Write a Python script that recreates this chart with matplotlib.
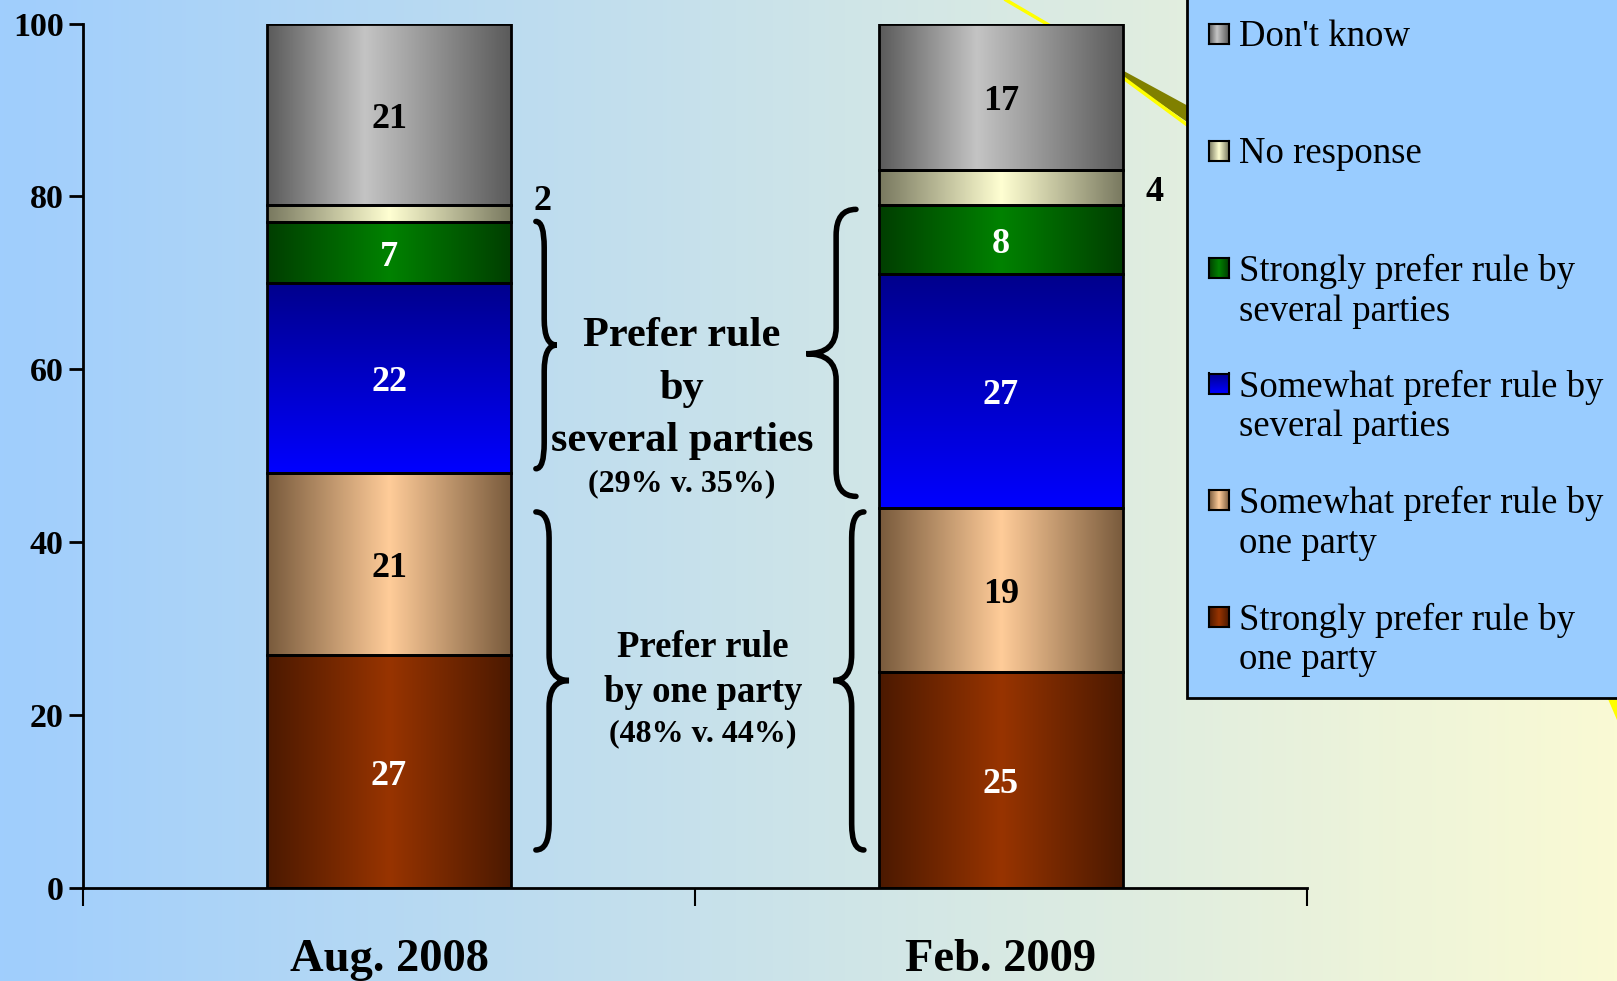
import numpy as np
import matplotlib.pyplot as plt
import matplotlib.transforms as mtransforms
from matplotlib.patches import Rectangle, Polygon
from matplotlib.path import Path
from matplotlib.patches import PathPatch

plt.rcParams['font.family'] = ['Liberation Serif', 'DejaVu Serif']

# données
periodes = ['Aug. 2008', 'Feb. 2009']
categories = ['Strongly prefer rule by\none party',
              'Somewhat prefer rule by\none party',
              'Somewhat prefer rule by\nseveral parties',
              'Strongly prefer rule by\nseveral parties',
              'No response',
              "Don't know"]
aug_2008 = [27, 21, 22, 7, 2, 21]
feb_2009 = [25, 19, 27, 8, 4, 17]
couleurs_texte = ['white', 'black', 'white', 'white', 'black', 'black']

# dégradés : (bord, centre, sens)
degrades = [((75, 25, 0), (152, 52, 0), 'h'),
            ((120, 90, 60), (255, 204, 153), 'h'),
            ((0, 0, 140), (0, 0, 255), 'v'),
            ((0, 62, 0), (0, 130, 0), 'h'),
            ((120, 120, 95), (255, 255, 210), 'h'),
            ((90, 90, 90), (196, 196, 196), 'h')]


def image_degrade(bord, centre, sens, pic=0.5):
    b = np.array(bord) / 255
    c = np.array(centre) / 255
    t = np.linspace(0, 1, 200)
    w = np.where(t < pic, t / pic, (1 - t) / (1 - pic))
    if sens == 'v':
        w = t
    img = b[None, :] * (1 - w[:, None]) + c[None, :] * w[:, None]
    if sens == 'h':
        return img[None, :, :]
    return img[:, None, :]


fig = plt.figure(figsize=(16.17, 9.81), dpi=100)

# fond en dégradé bleu -> jaune pâle
fond = fig.add_axes([0, 0, 1, 1], zorder=-2)
gauche = np.array([160, 206, 253]) / 255
droite = np.array([250, 250, 212]) / 255
t = np.linspace(0, 1, 400)
fond.imshow((gauche[None, :] * (1 - t[:, None]) + droite[None, :] * t[:, None])[None, :, :],
            aspect='auto', extent=[0, 1, 0, 1])
fond.set_xlim(0, 1)
fond.set_ylim(0, 1)
fond.axis('off')

# trait jaune de la bulle
W, H = 1617, 981
fond.plot([1006 / W, 1100 / W], [1, 1 - 55 / H], color='#FFFF00', lw=2.5)
fond.add_patch(Polygon([(1122 / W, 1 - 70 / H), (1190 / W, 1 - 107 / H),
                        (1190 / W, 1 - 124 / H), (1122 / W, 1 - 77 / H)],
                       closed=True, facecolor='#808000', edgecolor='none'))
fond.plot([1122 / W, 1190 / W], [1 - 77 / H, 1 - 127 / H], color='#FFFF00', lw=2.5)
fond.add_patch(Polygon([(1608 / W, 1 - 699 / H), (1617 / W, 1 - 699 / H),
                        (1617 / W, 1 - 720 / H)], closed=True,
                       facecolor='#FFFF00', edgecolor='none'))

ax = fig.add_axes([83 / W, 1 - 888 / H, (1307 - 83) / W, (888 - 23.5) / H])
ax.set_facecolor('none')

# petit décalage vers le bas pour centrer les chiffres comme dans l'original
decal = ax.transData + mtransforms.ScaledTranslation(0, -5 / 100, fig.dpi_scale_trans)

x = np.arange(len(periodes))
valeurs = np.array([aug_2008, feb_2009])
bas = np.zeros(len(periodes))
for i, cat in enumerate(categories):
    barres = ax.bar(x, valeurs[:, i], width=0.4, bottom=bas,
                    facecolor='none', edgecolor='black', linewidth=2, zorder=3)
    bord, centre, sens = degrades[i]
    pic = 0.4 if i == 5 else 0.5
    for rect in barres:
        x0, y0 = rect.get_x(), rect.get_y()
        im = ax.imshow(image_degrade(bord, centre, sens, pic), aspect='auto',
                       extent=[x0, x0 + rect.get_width(), y0, y0 + rect.get_height()],
                       origin='upper' if sens == 'v' else 'lower', zorder=2)
        im.set_clip_path(rect)
    for j in range(len(periodes)):
        v = valeurs[j, i]
        if cat == 'No response':
            # étiquette à droite de la barre
            ax.text(x[j] + 0.25, max(bas[j] + v / 2, 80), str(v), ha='center', va='center',
                    fontsize=26, fontweight='bold', color='black', transform=decal)
        else:
            ax.text(x[j], bas[j] + v / 2, str(v), ha='center', va='center',
                    fontsize=26, fontweight='bold', color=couleurs_texte[i], zorder=4,
                    transform=decal)
    bas += valeurs[:, i]


# accolades
def accolade(ax, x0, x1, y_haut, y_bas, y_pointe, hy=3.0):
    xm = x0 + 0.4 * (x1 - x0)
    verts = [(x0, y_haut), (xm, y_haut), (xm, y_haut - hy),
             (xm, y_pointe + hy), (xm, y_pointe), (x1, y_pointe),
             (xm, y_pointe), (xm, y_pointe - hy),
             (xm, y_bas + hy), (xm, y_bas), (x0, y_bas)]
    codes = [Path.MOVETO, Path.CURVE3, Path.CURVE3,
             Path.LINETO, Path.CURVE3, Path.CURVE3,
             Path.CURVE3, Path.CURVE3,
             Path.LINETO, Path.CURVE3, Path.CURVE3]
    ax.add_patch(PathPatch(Path(verts, codes), facecolor='none',
                           edgecolor='black', lw=4, capstyle='round', zorder=4))


accolade(ax, 0.240, 0.274, 77.1, 48.5, 62.8)
accolade(ax, 0.240, 0.294, 43.5, 4.4, 24.0)
accolade(ax, 0.763, 0.682, 78.5, 45.3, 61.8)
accolade(ax, 0.776, 0.726, 43.5, 4.4, 24.0)

txt = dict(ha='center', va='center', fontweight='bold', transform=decal)
ax.text(0.479, 64.4, 'Prefer rule', fontsize=30.5, **txt)
ax.text(0.479, 58.3, 'by', fontsize=30.5, **txt)
ax.text(0.479, 52.3, 'several parties', fontsize=30.5, **txt)
ax.text(0.479, 47.3, '(29% v. 35%)', fontsize=23, **txt)
ax.text(0.513, 28.4, 'Prefer rule', fontsize=26.5, **txt)
ax.text(0.513, 23.2, 'by one party', fontsize=26.5, **txt)
ax.text(0.513, 18.4, '(48% v. 44%)', fontsize=23, **txt)

# axes
ax.set_xlim(-0.5, 1.5)
ax.set_ylim(0, 100)
ax.set_yticks([0, 20, 40, 60, 80, 100])
ax.set_xticks([-0.5, 0.5, 1.5])
ax.set_xticklabels([])
ax.set_xticks(x, minor=True)
ax.set_xticklabels(periodes, minor=True, fontsize=33.5, fontweight='bold')
ax.tick_params(axis='x', which='minor', length=0, pad=37)
ax.tick_params(axis='x', which='major', length=13, width=1.5, direction='out')
ax.tick_params(axis='y', length=10, width=2, direction='out', pad=4)
for lab in ax.get_yticklabels():
    lab.set_fontsize(24.5)
    lab.set_fontweight('bold')
for s in ['top', 'right']:
    ax.spines[s].set_visible(False)
ax.spines['left'].set_linewidth(2)
ax.spines['bottom'].set_linewidth(2)

# légende dessinée à la main
fig.patches.append(Rectangle((1187 / W, 1 - 698 / H), 0.5, 0.8, transform=fig.transFigure,
                             facecolor='#99CCFF', edgecolor='black', lw=2, zorder=5))
y_lignes = [34, 150.5, 268, 383.5, 500, 616.5]
for k, i in enumerate(reversed(range(len(categories)))):
    yc = 1 - y_lignes[k] / H
    bord, centre, sens = degrades[i]
    hax = fig.add_axes([1209 / W, yc - 10 / H, 20 / W, 20 / H], zorder=6)
    hax.imshow(image_degrade(bord, centre, sens, 0.4 if i == 5 else 0.5), aspect='auto',
               origin='upper' if sens == 'v' else 'lower')
    hax.set_xticks([])
    hax.set_yticks([])
    for s in hax.spines.values():
        s.set_linewidth(1.5)
    fig.text(1239 / W, yc + 14 / H, categories[i], ha='left', va='top', fontsize=26.5,
             linespacing=1.2, zorder=7, transform=fig.transFigure)

fig.savefig('out.png', dpi=100)
